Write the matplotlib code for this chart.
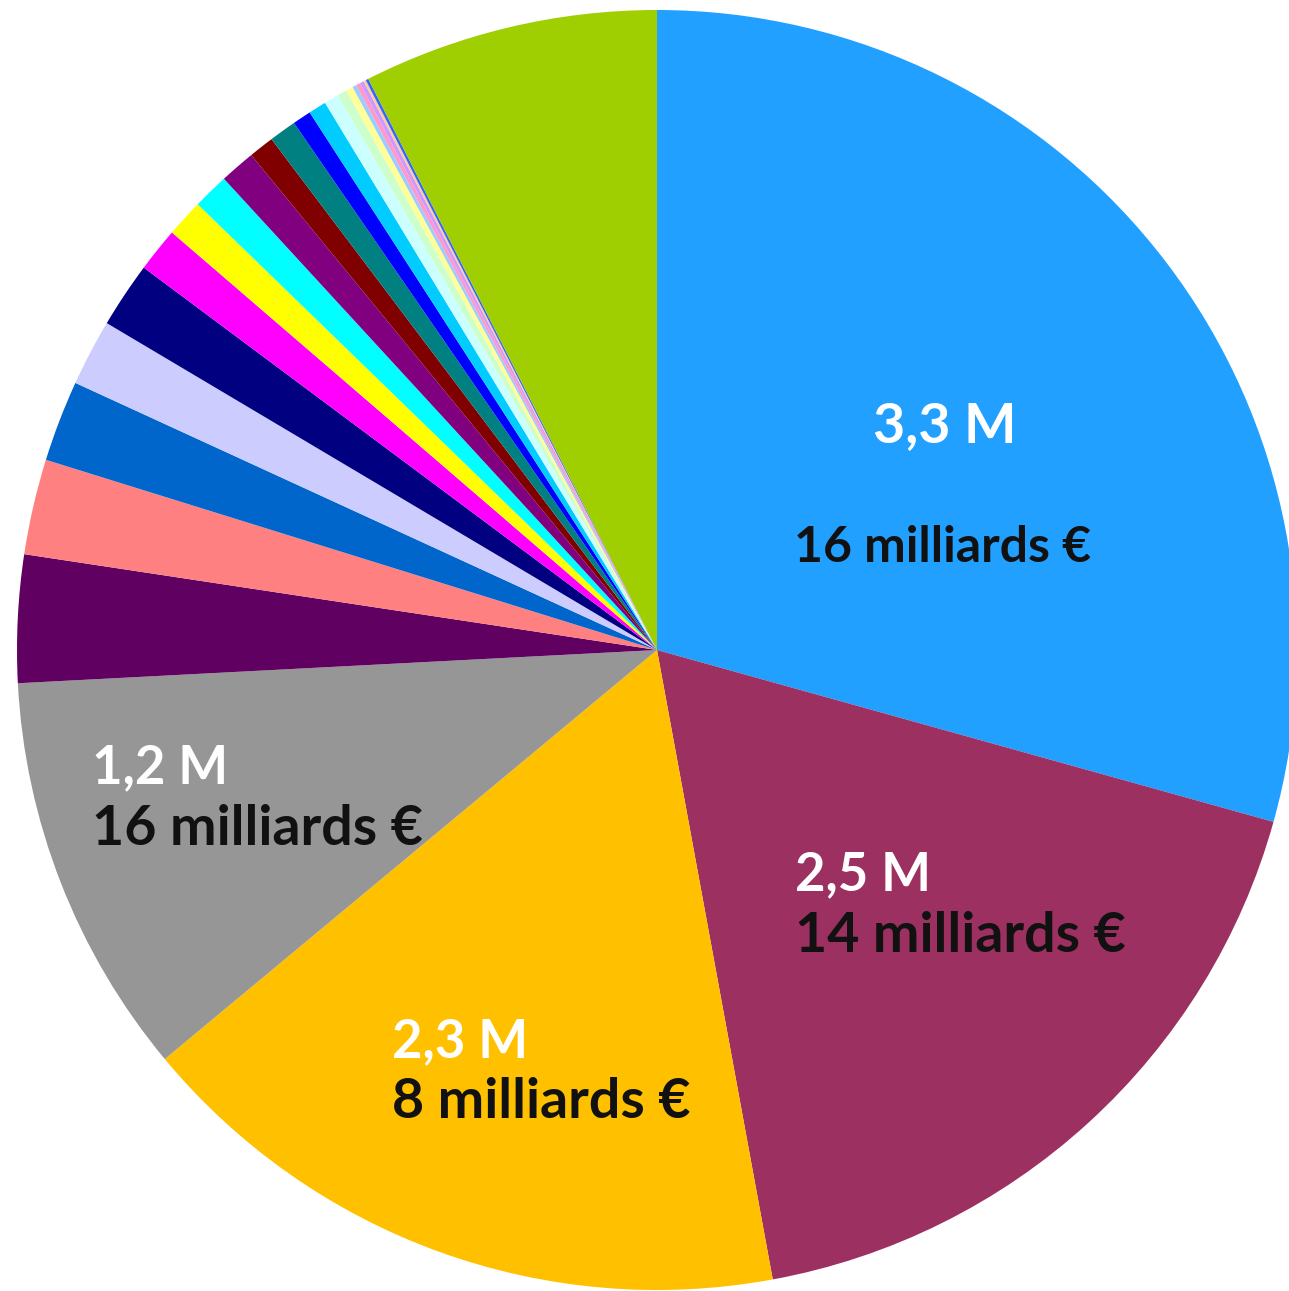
import matplotlib
matplotlib.use("Agg")
import matplotlib.pyplot as plt

# share of each slice (percent), clockwise from 12 o'clock
shares = [29.33, 17.78, 16.86, 10.21, 3.22, 2.41, 2.05, 1.68, 1.66, 1.12,
          0.95, 0.91, 0.90, 0.64, 0.69, 0.47, 0.45, 0.37, 0.24, 0.18,
          0.10, 0.11, 0.10, 0.06, 0.07, 7.45]
colors = ["#21A0FF", "#9C3060", "#FFC000", "#969696", "#600060", "#FF8080",
          "#0066CC", "#CCCCFF", "#000080", "#FF00FF", "#FFFF00", "#00FFFF",
          "#800080", "#800000", "#008080", "#0000FF", "#00CCFF", "#CCFFFF",
          "#CCFFCC", "#FFFF99", "#99CCFF", "#FF99CC", "#CC99FF", "#FFCC99",
          "#3366FF", "#9FCF00"]

# labels: (people, amount)
people = ["3,3 M", "2,5 M", "2,3 M", "1,2 M"]
amounts = ["16 milliards €", "14 milliards €", "8 milliards €", "16 milliards €"]

W, H = 1289, 1291
cx, cy, r = 657, 650, 640

fig = plt.figure(figsize=(W / 100, H / 100), dpi=100)
ax = fig.add_axes([0, 0, 1, 1])
ax.pie(shares, colors=colors, startangle=90, counterclock=False,
       radius=1, wedgeprops=dict(linewidth=0))
ax.set_xlim(-cx / r, (W - cx) / r)
ax.set_ylim(-(H - cy) / r, cy / r)
ax.set_aspect("equal")
ax.axis("off")

font = "Lato"

def put(txt, px, py, size, color, ha="left"):
    fig.text(px / W, 1 - py / H, txt, fontsize=size, color=color,
             fontweight="bold", family=font, ha=ha, va="baseline")

# top slice, centred
put(people[0], 945, 442, 40, "white", ha="center")
put(amounts[0], 943, 562, 36, "#111111", ha="center")
# maroon slice
put(people[1], 795, 890, 38, "white")
put(amounts[1], 795, 952, 40, "#111111")
# orange slice
put(people[2], 392, 1057, 38, "white")
put(amounts[2], 392, 1118, 40, "#111111")
# gray slice
put(people[3], 92, 783, 38, "white")
put(amounts[3], 92, 845, 40, "#111111")

fig.savefig("out.png", dpi=100)
